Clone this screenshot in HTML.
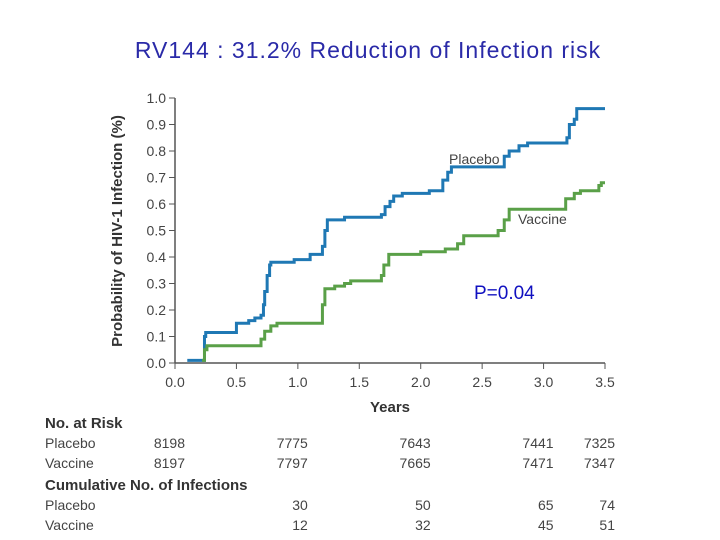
<!DOCTYPE html>
<html><head><meta charset="utf-8"><style>
body{margin:0;background:#fff;width:720px;height:540px;overflow:hidden;font-family:"Liberation Sans",sans-serif}
svg{position:absolute;left:0;top:0}
</style></head><body>
<svg width="720" height="540">
<text x="368" y="58" text-anchor="middle" font-size="23" letter-spacing="1" fill="#2a2aa8">RV144 : 31.2% Reduction of Infection risk</text>
<g id="axes"></g>
<g id="series"></g>
<text x="390" y="412" text-anchor="middle" font-size="15" font-weight="bold" fill="#333">Years</text>
<text transform="translate(122,231) rotate(-90)" text-anchor="middle" font-size="15" font-weight="bold" fill="#333">Probability of HIV-1 Infection (%)</text>
<text x="449" y="164" font-size="14" fill="#444">Placebo</text>
<text x="518" y="224" font-size="14" fill="#444">Vaccine</text>
<text x="474" y="299" font-size="19" fill="#1010c0">P=0.04</text>
<g id="table" font-size="14" fill="#444"></g>
</svg>
<script>
const yTicks=[0,0.1,0.2,0.3,0.4,0.5,0.6,0.7,0.8,0.9,1.0];
const xTicks=[0,0.5,1,1.5,2,2.5,3,3.5];
const placeboT=[0.1,0.24,0.25,0.5,0.6,0.65,0.7,0.72,0.73,0.75,0.77,0.78,0.97,1.1,1.2,1.22,1.24,1.38,1.68,1.71,1.75,1.78,1.85,2.07,2.18,2.22,2.25,2.68,2.72,2.8,2.87,3.19,3.21,3.25,3.27];
const placeboV=[0.01,0.1,0.115,0.15,0.16,0.17,0.18,0.22,0.27,0.33,0.37,0.38,0.39,0.41,0.44,0.5,0.54,0.55,0.56,0.59,0.61,0.63,0.64,0.65,0.69,0.72,0.74,0.78,0.8,0.82,0.83,0.85,0.9,0.92,0.96];
const vaccineT=[0.22,0.24,0.26,0.7,0.73,0.78,0.83,1.2,1.22,1.3,1.38,1.43,1.68,1.7,1.74,2.0,2.2,2.3,2.35,2.63,2.68,2.72,3.18,3.25,3.3,3.45,3.47];
const vaccineV=[0.01,0.05,0.065,0.09,0.12,0.14,0.15,0.22,0.28,0.29,0.3,0.31,0.33,0.37,0.41,0.42,0.43,0.45,0.48,0.5,0.54,0.58,0.62,0.64,0.65,0.67,0.68];
const xMax=3.5;
const atRiskCols=[0,1,2,3,3.5];
const placeboRisk=["8198","7775","7643","7441","7325"];
const vaccineRisk=["8197","7797","7665","7471","7347"];
const placeboInf=["","30","50","65","74"];
const vaccineInf=["","12","32","45","51"];
const NS="http://www.w3.org/2000/svg";
const X=v=>175+v*(430/3.5), Y=v=>363-v*265;
function mk(t,a,p){const e=document.createElementNS(NS,t);for(const k in a)e.setAttribute(k,a[k]);p.appendChild(e);return e;}
const ax=document.getElementById('axes');
let l=mk('line',{x1:175,y1:Y(1),x2:175,y2:363,stroke:'#555','stroke-width':1.5},ax);


l=mk('line',{x1:175,y1:363,x2:605,y2:363,stroke:'#555','stroke-width':1.5},ax);


yTicks.forEach(v=>{mk('line',{x1:169,x2:175,y1:Y(v),y2:Y(v),stroke:'#555'},ax);
const t=mk('text',{x:166,y:Y(v)+5,'text-anchor':'end','font-size':14,fill:'#444'},ax);t.textContent=v.toFixed(1);

});
xTicks.forEach(v=>{mk('line',{x1:X(v),x2:X(v),y1:363,y2:369,stroke:'#555'},ax);
const t=mk('text',{x:X(v),y:387,'text-anchor':'middle','font-size':14,fill:'#444'},ax);t.textContent=v.toFixed(1);

});
function step(T,V,c,name){let d='M'+X(T[0])+','+Y(V[0]);for(let i=1;i<T.length;i++){d+='H'+X(T[i])+'V'+Y(V[i]);}d+='H'+X(xMax);
const p=mk('path',{d:d,fill:'none',stroke:c,'stroke-width':3},document.getElementById('series'));

}
step(placeboT,placeboV,'#1f78b4','placebo-line');
step(vaccineT,vaccineV,'#5aa048','vaccine-line');
const tb=document.getElementById('table');
function txt(x,y,s,anchor,bold,name){const t=mk('text',{x:x,y:y,'text-anchor':anchor},tb);if(bold){t.setAttribute('font-weight','bold');t.setAttribute('font-size','15');t.setAttribute('fill','#333');}t.textContent=s;

}
txt(45,428,'No. at Risk','start',true,'at-risk-header');
txt(45,448,'Placebo','start',false,'row-label');
txt(45,468,'Vaccine','start',false,'row-label');
txt(45,490,'Cumulative No. of Infections','start',true,'infections-header');
txt(45,510,'Placebo','start',false,'row-label');
txt(45,530,'Vaccine','start',false,'row-label');
const colX=v=>X(v)+10;
atRiskCols.forEach((c,i)=>{txt(colX(c),448,placeboRisk[i],'end',false,'placebo-at-risk');txt(colX(c),468,vaccineRisk[i],'end',false,'vaccine-at-risk');
if(placeboInf[i])txt(colX(c),510,placeboInf[i],'end',false,'placebo-infections');
if(vaccineInf[i])txt(colX(c),530,vaccineInf[i],'end',false,'vaccine-infections');});
</script>
</body></html>
